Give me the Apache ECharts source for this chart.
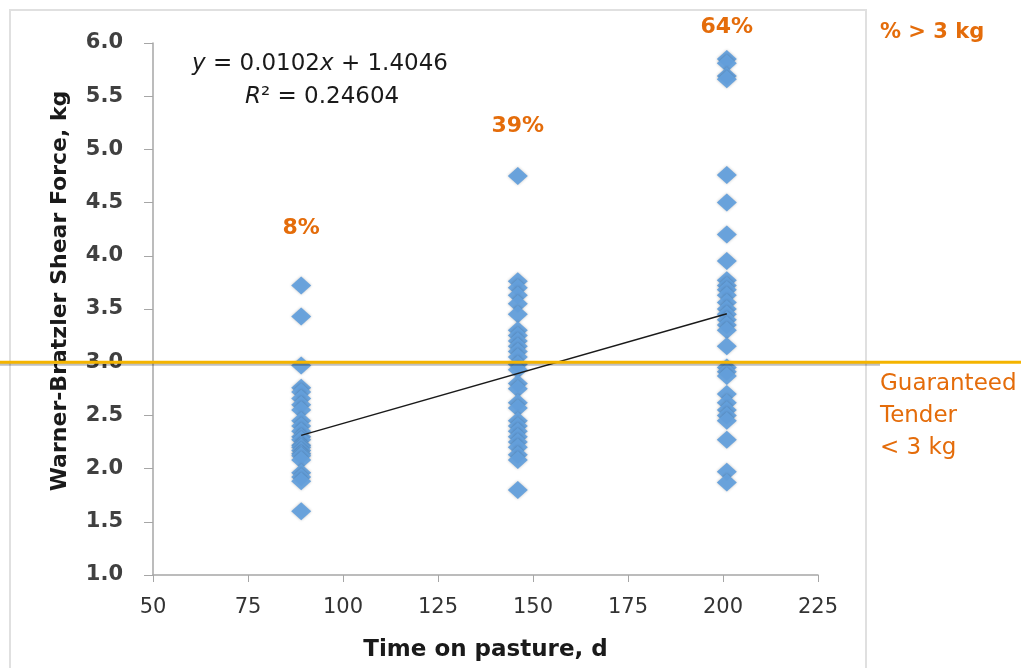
<!DOCTYPE html>
<html><head><meta charset="utf-8">
<script src="https://cdn.jsdelivr.net/npm/echarts@6/dist/echarts.min.js"></script>
<style>html,body{margin:0;padding:0;background:#fff}#c{width:1021px;height:668px}</style>
</head><body><div id="c"></div>
<script>
const xDays = [89, 146, 201];
const shear89 = [3.72, 3.43, 2.97, 2.76, 2.72, 2.66, 2.6, 2.55, 2.45, 2.4, 2.35, 2.3, 2.27, 2.22, 2.2, 2.17, 2.14, 2.12, 2.08, 1.96, 1.92, 1.88, 1.6];
const shear146 = [4.75, 3.76, 3.7, 3.63, 3.55, 3.45, 3.3, 3.25, 3.2, 3.15, 3.1, 3.05, 2.98, 2.93, 2.8, 2.75, 2.62, 2.57, 2.45, 2.4, 2.35, 2.3, 2.25, 2.2, 2.13, 2.08, 1.8];
const shear201 = [5.85, 5.81, 5.69, 5.66, 4.76, 4.5, 4.2, 3.95, 3.77, 3.72, 3.68, 3.63, 3.56, 3.5, 3.45, 3.4, 3.35, 3.3, 3.15, 2.95, 2.91, 2.87, 2.7, 2.62, 2.55, 2.5, 2.45, 2.27, 1.97, 1.87];
const pctLabels = ['8%', '39%', '64%'];
const pctY = [4.26, 5.22, 6.15];
const trendSlope = 0.0102, trendIntercept = 1.4046;
const xTicks = {min: 50, max: 225, interval: 25};
const yTicks = {min: 1.0, max: 6.0, interval: 0.5};

const groups = [shear89, shear146, shear201];
const scatterData = [];
groups.forEach((g, i) => g.forEach(v => scatterData.push([xDays[i], v])));
const trendData = [xDays[0], xDays[2]].map(x => [x, trendSlope * x + trendIntercept]);
const pctData = xDays.map((x, i) => ({value: [x, pctY[i]], label: {formatter: pctLabels[i]}}));

const orange = '#e46c0a';
const font = '"DejaVu Sans", sans-serif';
const chart = echarts.init(document.getElementById('c'));
const option = {
  backgroundColor: '#ffffff',
  animation: false,
  grid: {left: 153, right: 203, top: 43, bottom: 93},
  xAxis: {
    type: 'value', min: xTicks.min, max: xTicks.max, interval: xTicks.interval,
    name: 'Time on pasture, d', nameLocation: 'middle', nameGap: 64,
    nameTextStyle: {fontFamily: font, fontSize: 23, fontWeight: 'bold', color: '#1a1a1a'},
    axisLine: {lineStyle: {color: '#a6a6a6', width: 1.5}},
    axisTick: {show: true, length: 7, lineStyle: {color: '#a6a6a6'}},
    axisLabel: {fontFamily: font, fontSize: 21, color: '#333', margin: 22},
    splitLine: {show: false}
  },
  yAxis: {
    type: 'value', min: yTicks.min, max: yTicks.max, interval: yTicks.interval,
    name: 'Warner-Bratzler Shear Force, kg', nameLocation: 'middle', nameGap: 82, nameRotate: 90,
    nameTextStyle: {fontFamily: font, fontSize: 22, fontWeight: 'bold', color: '#1a1a1a', padding: [0, 0, 0, 36]},
    axisLine: {show: true, lineStyle: {color: '#a6a6a6', width: 1.5}},
    axisTick: {show: true, length: 9, lineStyle: {color: '#a6a6a6'}},
    axisLabel: {fontFamily: font, fontSize: 21, fontWeight: 'bold', color: '#404040', margin: 30,
      formatter: v => v.toFixed(1)},
    splitLine: {show: false}
  },
  series: [
    {type: 'scatter', data: scatterData, symbol: 'diamond', symbolSize: [20, 18],
     itemStyle: {color: '#64a0dc', shadowBlur: 3, shadowColor: 'rgba(0,0,0,0.25)', opacity: 0.95}, z: 3},
    {type: 'line', data: trendData, symbol: 'none', lineStyle: {color: '#1a1a1a', width: 1.5}, z: 4},
    {type: 'scatter', data: pctData, symbolSize: 0, clip: false, silent: true, itemStyle: {opacity: 1},
     label: {show: true, position: 'inside', fontFamily: font, fontSize: 22, fontWeight: 'bold', color: orange}}
  ]
};
chart.setOption(option);
const y3 = chart.convertToPixel({yAxisIndex: 0}, 3.0);
const rich = {i: {fontFamily: font, fontSize: 23, fontStyle: 'italic', fill: '#1a1a1a'}, n: {fontFamily: font, fontSize: 23, fill: '#1a1a1a'}};
chart.setOption({
  graphic: [
    {type: 'rect', shape: {x: 10, y: 10, width: 856, height: 680}, style: {fill: 'none', stroke: '#e0e0e0', lineWidth: 2}, z: -1},
    {type: 'line', shape: {x1: 0, y1: y3 + 2, x2: 880, y2: y3 + 2}, style: {stroke: 'rgba(0,0,0,0.25)', lineWidth: 3}, z: 9},
    {type: 'line', shape: {x1: 0, y1: y3, x2: 1021, y2: y3}, style: {stroke: '#f4b400', lineWidth: 3}, z: 10},
    {type: 'text', left: 192, top: 53, style: {rich: rich, text: '{i|y}{n| = 0.0102}{i|x}{n| + 1.4046}'}},
    {type: 'text', left: 245, top: 86, style: {rich: rich, text: '{i|R}{n|² = 0.24604}'}},
    {type: 'text', left: 880, top: 22, style: {text: '% > 3 kg', fontFamily: font, fontSize: 21, fontWeight: 'bold', fill: orange}},
    {type: 'text', left: 880, top: 368, style: {text: 'Guaranteed\nTender\n< 3 kg', fontFamily: font, fontSize: 23, lineHeight: 32, fill: orange}}
  ]
});
</script></body></html>
